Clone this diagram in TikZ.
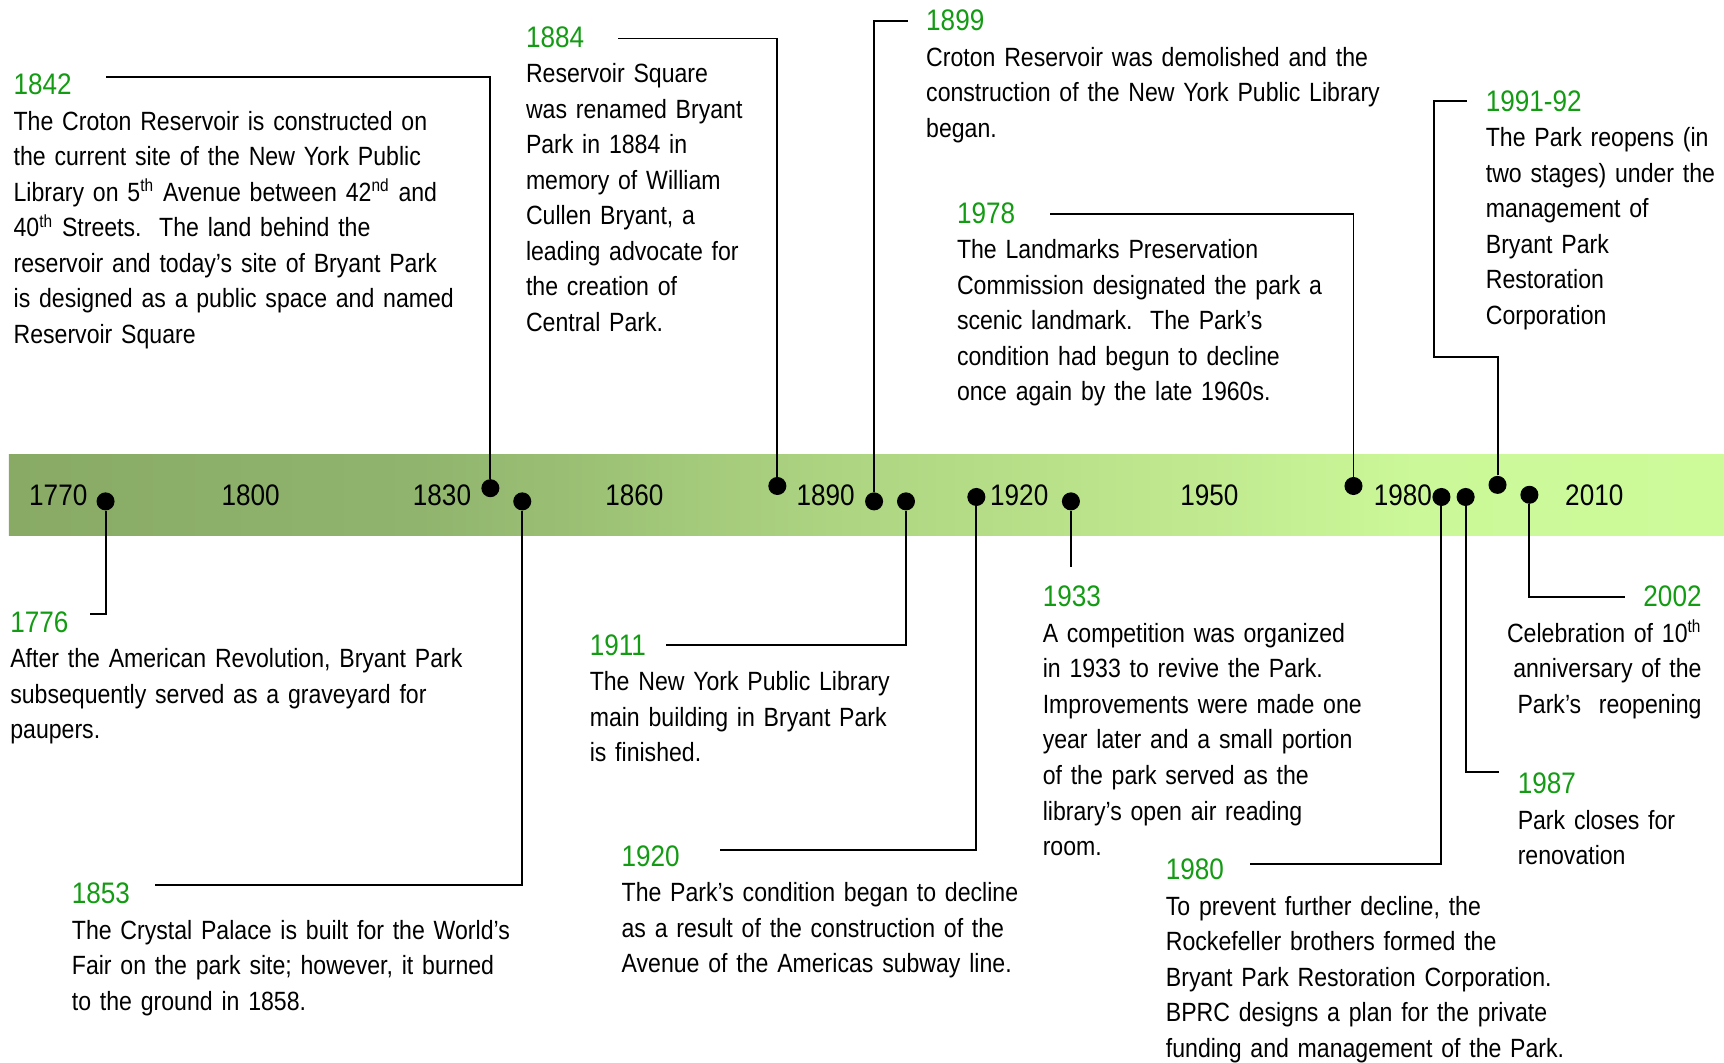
\documentclass[tikz,border=0pt]{standalone}
\usepackage{fontspec}
\usepackage{tikz}
\setmainfont{Liberation Sans}[FakeStretch=0.875]
\newfontfamily\yrfont{Liberation Sans}[FakeStretch=0.88]

\definecolor{yrgreen}{RGB}{20,155,20}
\definecolor{bandA}{RGB}{136,170,101}
\definecolor{bandB}{RGB}{144,180,109}
\definecolor{bandC}{RGB}{173,212,129}
\definecolor{bandD}{RGB}{193,234,144}
\definecolor{bandE}{RGB}{203,248,152}
\definecolor{bandF}{RGB}{205,251,154}
\pgfdeclarehorizontalshading{bandshade}{100bp}{color(0bp)=(bandA); color(25bp)=(bandA);
  color(37bp)=(bandB); color(49bp)=(bandC); color(60bp)=(bandD); color(66bp)=(bandE);
  color(75bp)=(bandF); color(100bp)=(bandF)}

\newcommand{\yr}[1]{{\yrfont\fontsize{13.5}{16}\selectfont\color{yrgreen}#1}}

\begin{document}
\begin{tikzpicture}[x=0.5pt, y=-0.5pt,
	dot/.style={shape=circle, fill=black, inner sep=0pt, minimum size=8.2pt},
	note/.style={anchor=base west, inner sep=0pt, text width=230pt, align=left,
		font=\fontsize{12}{16.15}\selectfont},
	tick/.style={inner sep=0pt, font=\yrfont\fontsize{13.5}{16}\selectfont},
	link/.style={draw=black, line width=0.9pt}]

	\useasboundingbox (0, 0) rectangle (1568, 966);

	% the time band
	\shade[shading=bandshade] (8, 413) rectangle (1568, 487);

	\node[tick] (t1770) at (53, 450)   {1770};
	\node[tick] (t1800) at (228, 450)  {1800};
	\node[tick] (t1830) at (402, 450)  {1830};
	\node[tick] (t1860) at (577, 450)  {1860};
	\node[tick] (t1890) at (751, 450)  {1890};
	\node[tick] (t1920) at (927, 450)  {1920};
	\node[tick] (t1950) at (1100, 450) {1950};
	\node[tick] (t1980) at (1276, 450) {1980};
	\node[tick] (t2010) at (1450, 450) {2010};

	% dots
	\node[dot] (d1776) at (96, 456)   {};
	\node[dot] (d1842) at (446, 444)  {};
	\node[dot] (d1853) at (475, 456)  {};
	\node[dot] (d1884) at (707, 442)  {};
	\node[dot] (d1899) at (795, 456)  {};
	\node[dot] (d1911) at (824, 456)  {};
	\node[dot] (d1920) at (888, 452)  {};
	\node[dot] (d1933) at (974, 456)  {};
	\node[dot] (d1978) at (1231, 442) {};
	\node[dot] (d1980) at (1311, 452) {};
	\node[dot] (d1987) at (1333, 452) {};
	\node[dot] (d1991) at (1362, 441) {};
	\node[dot] (d2002) at (1391, 450) {};

	% notes above the band
	\node[note] (n1842) at (12, 86) {\yr{1842}\\
		The Croton Reservoir is constructed on\\
		the current site of the New York Public\\
		Library on 5\textsuperscript{th} Avenue between 42\textsuperscript{nd} and\\
		40\textsuperscript{th} Streets.\ \ The land behind the\\
		reservoir and today’s site of Bryant Park\\
		is designed as a public space and named\\
		Reservoir Square};
	\node[note] (n1884) at (478, 43) {\yr{1884}\\
		Reservoir Square\\
		was renamed Bryant\\
		Park in 1884 in\\
		memory of William\\
		Cullen Bryant, a\\
		leading advocate for\\
		the creation of\\
		Central Park.};
	\node[note] (n1899) at (842, 28) {\yr{1899}\\
		Croton Reservoir was demolished and the\\
		construction of the New York Public Library\\
		began.};
	\node[note] (n1978) at (870, 203) {\yr{1978}\\
		The Landmarks Preservation\\
		Commission designated the park a\\
		scenic landmark.\ \ The Park’s\\
		condition had begun to decline\\
		once again by the late 1960s.};
	\node[note] (n1991) at (1351, 101) {\yr{1991-92}\\
		The Park reopens (in\\
		two stages) under the\\
		management of\\
		Bryant Park\\
		Restoration\\
		Corporation};

	% notes below the band
	\node[note] (n1776) at (9, 575) {\yr{1776}\\
		After the American Revolution, Bryant Park\\
		subsequently served as a graveyard for\\
		paupers.};
	\node[note] (n1853) at (65, 822) {\yr{1853}\\
		The Crystal Palace is built for the World’s\\
		Fair on the park site; however, it burned\\
		to the ground in 1858.};
	\node[note] (n1911) at (536, 596) {\yr{1911}\\
		The New York Public Library\\
		main building in Bryant Park\\
		is finished.};
	\node[note] (n1920) at (565, 788) {\yr{1920}\\
		The Park’s condition began to decline\\
		as a result of the construction of the\\
		Avenue of the Americas subway line.};
	\node[note] (n1933) at (948, 552) {\yr{1933}\\
		A competition was organized\\
		in 1933 to revive the Park.\\
		Improvements were made one\\
		year later and a small portion\\
		of the park served as the\\
		library’s open air reading\\
		room.};
	\node[note] (n1980) at (1060, 800) {\yr{1980}\\
		To prevent further decline, the\\
		Rockefeller brothers formed the\\
		Bryant Park Restoration Corporation.\\
		BPRC designs a plan for the private\\
		funding and management of the Park.};
	\node[note] (n1987) at (1380, 722) {\yr{1987}\\
		Park closes for\\
		renovation};
	\node[note, anchor=base east, align=right] (n2002) at (1548, 552) {\yr{2002}\\
		Celebration of 10\textsuperscript{th}\\
		anniversary of the\\
		Park’s\ \ reopening};

	% connector ends
	\coordinate (e1776) at (82, 558);
	\coordinate (e1842) at (96, 70);
	\coordinate (e1853) at (141, 805);
	\coordinate (e1884) at (562, 35);
	\coordinate (e1899) at (826, 19);
	\coordinate (e1911) at (606, 587);
	\coordinate (e1920) at (655, 773);
	\coordinate (e1933) at (974, 516);
	\coordinate (e1978) at (955, 195);
	\coordinate (e1980) at (1137, 786);
	\coordinate (e1987) at (1363, 702);
	\coordinate (k1991) at (1304, 325);
	\coordinate (e1991) at (1334, 92);
	\coordinate (e2002) at (1478, 543);

	\path[link] (d1776) |- (e1776);
	\path[link] (d1842) |- (e1842);
	\path[link] (d1853) |- (e1853);
	\path[link] (d1884) |- (e1884);
	\path[link] (d1899) |- (e1899);
	\path[link] (d1911) |- (e1911);
	\path[link] (d1920) |- (e1920);
	\path[link] (d1933) -- (e1933);
	\path[link] (d1978) |- (e1978);
	\path[link] (d1980) |- (e1980);
	\path[link] (d1987) |- (e1987);
	\path[link] (d1991) |- (k1991) |- (e1991);
	\path[link] (d2002) |- (e2002);

\end{tikzpicture}
\end{document}
